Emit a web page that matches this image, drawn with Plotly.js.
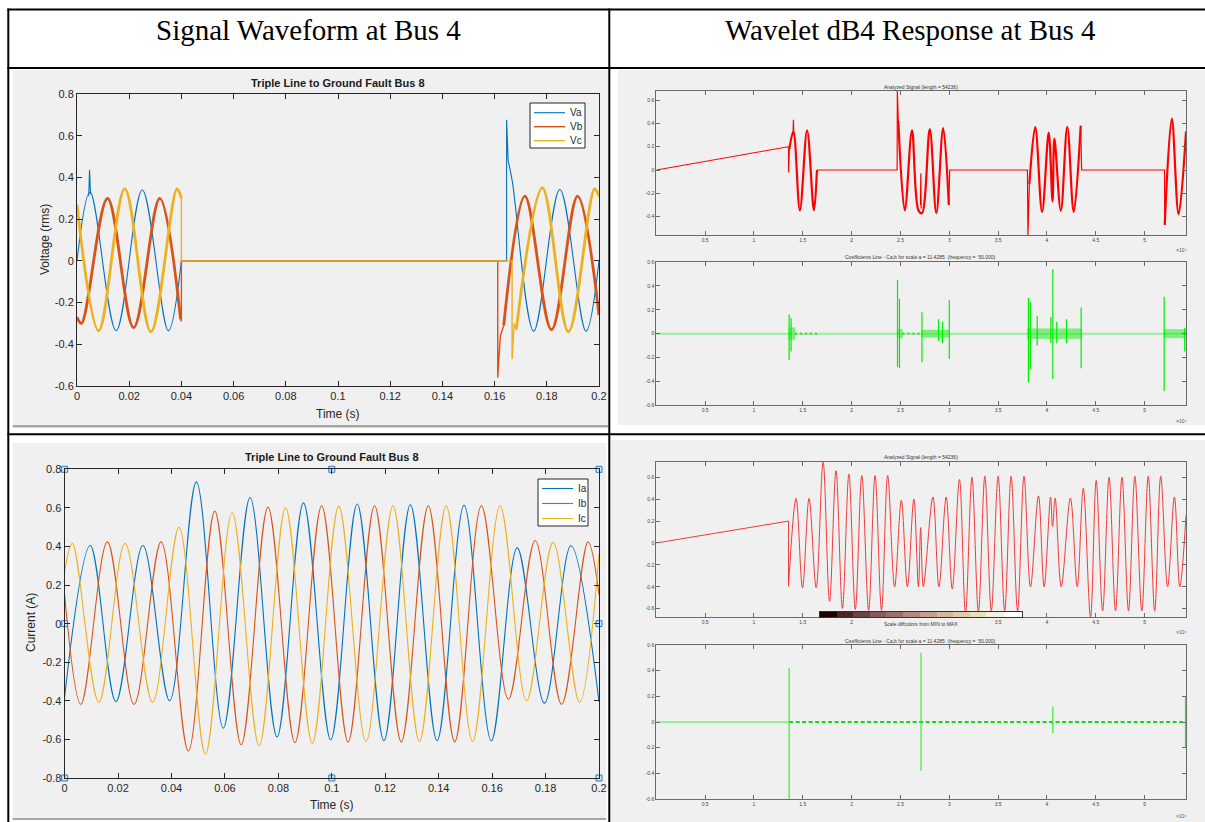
<!DOCTYPE html>
<html><head><meta charset="utf-8">
<script src="https://cdn.plot.ly/plotly-3.0.1.min.js"></script>
<style>html,body{margin:0;padding:0;background:#fff;overflow:hidden}#chart{width:1205px;height:822px}</style>
</head><body><div id="chart"></div><script>
// ---------------- DATA ----------------
// Top-left: voltages, time in s. Smooth wave parts (spline) and straight pieces (steps/flat/spikes)
const vaT = [0, 0.005, 0.015, 0.025, 0.035, 0.04, null, 0.1652, 0.1668, 0.175, 0.185, 0.195, 0.2];
const vaV = [0, 0.33, -0.335, 0.34, -0.335, 0, null, 0.48, 0.38, -0.337, 0.342, -0.337, 0];
const vaStepT = [0.04, 0.1646, 0.1646, 0.1652, null, 0.0045, 0.0048, 0.0052];
const vaStepV = [0, 0, 0.677, 0.48, null, 0.31, 0.435, 0.32];
const vbT = [0, 0.0017, 0.0117, 0.0217, 0.0317, 0.0397, null, 0.1635, 0.1716, 0.1818, 0.1918, 0.2];
const vbV = [-0.27, -0.3, 0.3, -0.32, 0.3, -0.28, null, -0.31, 0.31, -0.33, 0.31, -0.26];
const vbStepT = [0.0397, 0.04, 0.04, 0.1612, 0.1612, 0.1622, 0.1635];
const vbStepV = [-0.28, -0.29, 0, 0, -0.56, -0.36, -0.31];
const vcT = [0, 0.0083, 0.0183, 0.0283, 0.0383, 0.04, null, 0.1683, 0.1783, 0.1883, 0.1983, 0.2];
const vcV = [0.27, -0.335, 0.345, -0.34, 0.345, 0.3, null, -0.33, 0.35, -0.34, 0.345, 0.31];
const vcStepT = [0.04, 0.04, 0.1667, 0.1667, 0.1675, 0.1683];
const vcStepV = [0.3, 0, 0, -0.47, -0.3, -0.33];
const voltNames = ['Va', 'Vb', 'Vc'];

// Bottom-left: currents (extrema), time in s
const iaT = [0, 0.0096, 0.0192, 0.0293, 0.0393, 0.0493, 0.0594, 0.0694, 0.0795, 0.0894, 0.0996, 0.1095, 0.1195, 0.1294, 0.1394, 0.1495, 0.1597, 0.1694, 0.1796, 0.1895, 0.2];
const iaV = [-0.38, 0.405, -0.404, 0.405, -0.40, 0.735, -0.542, 0.654, -0.587, 0.626, -0.602, 0.62, -0.607, 0.616, -0.607, 0.613, -0.607, 0.393, -0.412, 0.404, -0.404];
const ibT = [0, 0.0061, 0.016, 0.026, 0.0361, 0.0463, 0.0562, 0.0661, 0.0761, 0.0862, 0.0962, 0.1061, 0.116, 0.126, 0.1361, 0.146, 0.156, 0.1661, 0.1761, 0.186, 0.1959, 0.2];
const ibV = [0.15, -0.418, 0.424, -0.418, 0.424, -0.66, 0.583, -0.628, 0.604, -0.616, 0.611, -0.613, 0.611, -0.613, 0.611, -0.613, 0.611, -0.392, 0.431, -0.418, 0.424, 0.15];
const icT = [0, 0.0029, 0.0128, 0.0226, 0.0329, 0.0428, 0.0527, 0.0627, 0.0728, 0.0827, 0.0927, 0.1026, 0.1128, 0.1229, 0.1328, 0.1428, 0.1527, 0.163, 0.1729, 0.1828, 0.1927, 0.2];
const icV = [0.27, 0.416, -0.407, 0.416, -0.407, 0.499, -0.676, 0.575, -0.633, 0.6, -0.62, 0.609, -0.611, 0.611, -0.611, 0.611, -0.611, 0.611, -0.40, 0.421, -0.407, 0.36];
const currNames = ['Ia', 'Ib', 'Ic'];
const handleT = [0, 0.1, 0.2, 0, 0.2, 0, 0.1, 0.2];
const handleV = [0.8, 0.8, 0.8, 0, 0, -0.8, -0.8, -0.8];

// Right column, x in samples x10^4
const rampX = [0, 1.354];
const rampY = [0, 0.2];
// Top-right analysed signal
const sigTopWaveX = [1.362, 1.404, 1.47, 1.544, 1.614, 1.645, null, 2.478, 2.544, 2.618, 2.684, 2.72, 2.80, 2.867, 2.937, 2.995, null, 3.82, 3.88, 3.95, 4.018, 4.057, 4.076, 4.142, 4.208, 4.274, 4.345, null, 5.206, 5.278, 5.348, 5.4236];
const sigTopWaveY = [0.18, 0.33, -0.346, 0.34, -0.346, 0, null, 0.42, -0.346, 0.34, -0.346, -0.37, 0.35, -0.37, 0.36, -0.3, null, -0.12, 0.37, -0.36, 0.32, -0.27, 0.27, -0.35, 0.37, -0.36, 0.38, null, -0.47, 0.44, -0.38, 0.33];
const sigTopStepX = [1.354, 1.354, 1.362, null, 1.645, 2.466, 2.468, 2.478, null, 2.705, 2.708, 2.712, null, 2.995, 3.004, 3.80, 3.805, 3.82, null, 4.345, 4.355, 5.204, 5.206, null, 1.400, 1.404, 1.408];
const sigTopStepY = [0.2, -0.02, 0.18, null, 0, 0, 0.68, 0.42, null, -0.3, -0.03, -0.33, null, -0.3, 0, 0, -0.56, -0.12, null, 0.38, 0, 0, -0.47, null, 0.3, 0.43, 0.3];
// Top-right coefficients
const topBaseX = [0, 5.4236];
const topDotsX = [1.42, 1.65, null, 2.52, 2.71];
const topSpikeX = [1.36, 1.38, 2.47, 2.49, 2.72, 2.89, 2.93, 3.0, 3.81, 3.83, 3.9, 4.04, 4.06, 4.1, 4.2, 4.35, 5.2, 5.41, 5.43];
const topSpikeHi = [0.16, 0.13, 0.45, 0.29, 0.18, 0.12, 0.1, 0.28, 0.3, 0.27, 0.15, 0.14, 0.54, 0.1, 0.12, 0.22, 0.31, 0.05, 0.2];
const topSpikeLo = [-0.22, -0.15, -0.28, -0.29, -0.24, -0.06, -0.08, -0.21, -0.41, -0.3, -0.1, -0.08, -0.38, -0.08, -0.08, -0.29, -0.48, -0.15, -0.2];
const topBurstStart = [1.355, 2.465, 2.715, 3.80, 5.2];
const topBurstEnd = [1.42, 2.52, 3.0, 4.355, 5.4236];
const topBurstAmp = [0.05, 0.035, 0.03, 0.04, 0.035];
// Bottom-right analysed signal
const sigBotStepX = [1.354, 1.354];
const sigBotStepY = [0.2, -0.395];
const sigBotWaveX = [1.354, 1.431, 1.497, 1.564, 1.637, 1.708, 1.774, 1.84, 1.906, 1.972, 2.038, 2.104, 2.174, 2.24, 2.306, 2.369, 2.44, 2.509, 2.571, 2.637, 2.684, 2.707, 2.734, 2.832, 2.894, 2.968, 3.03, 3.104, 3.166, 3.232, 3.298, 3.364, 3.43, 3.5, 3.567, 3.633, 3.699, 3.765, 3.831, 3.913, 3.971, 4.037, 4.057, 4.084, 4.146, 4.24, 4.31, 4.372, 4.446, 4.504, 4.57, 4.636, 4.702, 4.768, 4.835, 4.9, 4.971, 5.037, 5.103, 5.165, 5.235, 5.305, 5.36, 5.4236];
const sigBotWaveY = [-0.395, 0.407, -0.41, 0.407, -0.41, 0.74, -0.533, 0.66, -0.597, 0.63, -0.606, 0.615, -0.615, 0.615, -0.615, 0.615, -0.4, 0.39, -0.4, 0.4, -0.4, 0.14, -0.4, 0.42, -0.4, 0.42, -0.42, 0.58, -0.64, 0.6, -0.63, 0.61, -0.62, 0.61, -0.62, 0.61, -0.62, 0.61, -0.4, 0.43, -0.4, 0.42, 0.15, 0.41, -0.4, 0.41, -0.4, 0.5, -0.68, 0.57, -0.62, 0.6, -0.62, 0.6, -0.62, 0.61, -0.62, 0.61, -0.62, 0.61, -0.4, 0.42, -0.4, 0.25];
const colorLevels = [0, 1, 2, 3, 4, 5, 6, 7, 8, 9, 10, 11];
const colorBarX = [1.76, 1.93, 2.10, 2.27, 2.44, 2.61, 2.79, 2.96, 3.13, 3.30, 3.47, 3.66];
// Bottom-right coefficients
const botBaseSolidX = [0, 1.36];
const botBaseDashX = [1.36, 5.4236];
const botSpikeX = [1.36, 2.711, 4.06, 5.418];
const botSpikeHi = [0.42, 0.54, 0.12, 0.2];
const botSpikeLo = [-0.6, -0.38, -0.088, -0.2];

// Tick labels
const leftXTicks = [0, 0.02, 0.04, 0.06, 0.08, 0.1, 0.12, 0.14, 0.16, 0.18, 0.2];
const leftXText = ['0', '0.02', '0.04', '0.06', '0.08', '0.1', '0.12', '0.14', '0.16', '0.18', '0.2'];
const voltYTicks = [-0.6, -0.4, -0.2, 0, 0.2, 0.4, 0.6, 0.8];
const voltYText = ['-0.6', '-0.4', '-0.2', '0', '0.2', '0.4', '0.6', '0.8'];
const currYTicks = [-0.8, -0.6, -0.4, -0.2, 0, 0.2, 0.4, 0.6, 0.8];
const currYText = ['-0.8', '-0.6', '-0.4', '-0.2', '0', '0.2', '0.4', '0.6', '0.8'];
const rightXTicks = [0.5, 1, 1.5, 2, 2.5, 3, 3.5, 4, 4.5, 5];
const rightXText = ['0.5', '1', '1.5', '2', '2.5', '3', '3.5', '4', '4.5', '5'];
const rightXTextUnderBar = ['0.5', '1', '1.5', '2', '', '', '3.5', '4', '4.5', '5'];
const sigTopYTicks = [-0.4, -0.2, 0, 0.2, 0.4, 0.6];
const sigTopYText = ['-0.4', '-0.2', '0', '0.2', '0.4', '0.6'];
const sixYTicks = [-0.6, -0.4, -0.2, 0, 0.2, 0.4, 0.6];
const sixYText = ['-0.6', '-0.4', '-0.2', '0', '0.2', '0.4', '0.6'];

// ---------------- LAYOUT HELPERS ----------------
const W = 1205, H = 822;
const px = x => x / W, py = y => 1 - y / H;
const C_A = '#0072BD', C_B = '#D95319', C_C = '#EDB120';
const PHASE_COLORS = [C_A, C_B, C_C];
const RED = '#ff0000', GREEN = '#00ee00';

function leftAx(extra) {
  return Object.assign({showline: true, linecolor: '#262626', linewidth: 1, mirror: 'ticks', ticks: 'inside', ticklen: 5,
    tickcolor: '#262626', showgrid: false, zeroline: false, tickfont: {size: 11, color: '#262626'}, fixedrange: true}, extra);
}
function rightAx(extra) {
  return Object.assign({showline: true, linecolor: '#6a6a6a', linewidth: 1, mirror: 'ticks', ticks: 'inside', ticklen: 4,
    tickcolor: '#6a6a6a', showgrid: false, zeroline: false, tickfont: {size: 5, color: '#444'}, fixedrange: true}, extra);
}
function line(x, y, xa, ya, color, width, shape, extra) {
  return Object.assign({type: 'scatter', mode: 'lines', x: x, y: y, xaxis: xa, yaxis: ya,
    line: {color: color, width: width, shape: shape || 'linear', smoothing: 1}, showlegend: false, hoverinfo: 'skip'}, extra || {});
}
function spikes(xs, hi, lo, xa, ya, color) {
  const x = [], y = [];
  xs.forEach((v, i) => { x.push(v, v, null); y.push(lo[i], hi[i], null); });
  return line(x, y, xa, ya, color, 1.2);
}
function bursts(s, e, a, xa, ya) {
  const x = [], y = [];
  s.forEach((v, i) => { x.push(v, e[i], e[i], v, v, null); y.push(-a[i], -a[i], a[i], a[i], -a[i], null); });
  return line(x, y, xa, ya, 'rgba(40,235,40,0.6)', 0.5, 'linear', {fill: 'toself', fillcolor: 'rgba(40,235,40,0.55)'});
}
const zeros = arr => arr.map(v => v === null ? null : 0);

const traces = [
  // top-left voltages
  line(vaT, vaV, 'x', 'y', C_A, 1.1, 'spline', {name: voltNames[0]}),
  line(vaStepT, vaStepV, 'x', 'y', C_A, 1.1),
  line(vbT, vbV, 'x', 'y', C_B, 2.8, 'spline', {name: voltNames[1]}),
  line(vbStepT, vbStepV, 'x', 'y', C_B, 1.4),
  line(vcT, vcV, 'x', 'y', C_C, 2.8, 'spline', {name: voltNames[2]}),
  line(vcStepT, vcStepV, 'x', 'y', C_C, 1.4),
  // bottom-left currents
  line(iaT, iaV, 'x2', 'y2', C_A, 1.1, 'spline', {name: currNames[0]}),
  line(ibT, ibV, 'x2', 'y2', C_B, 1.1, 'spline', {name: currNames[1]}),
  line(icT, icV, 'x2', 'y2', C_C, 1.1, 'spline', {name: currNames[2]}),
  {type: 'scatter', mode: 'markers', x: handleT, y: handleV, xaxis: 'x2', yaxis: 'y2', cliponaxis: false, showlegend: false, hoverinfo: 'skip',
    marker: {symbol: 'square', size: 6, color: '#cfe6f8', line: {color: '#2d7cc4', width: 1}}},
  // top-right signal
  line(rampX, rampY, 'x3', 'y3', RED, 1),
  line(sigTopStepX, sigTopStepY, 'x3', 'y3', RED, 1.2),
  line(sigTopWaveX, sigTopWaveY, 'x3', 'y3', RED, 2.2, 'spline'),
  // top-right coefficients
  line(topBaseX, zeros(topBaseX), 'x4', 'y4', 'rgba(60,240,60,0.5)', 2),
  line(topDotsX, zeros(topDotsX), 'x4', 'y4', '#22dd22', 1.6, 'linear', {line: {color: '#22dd22', width: 1.6, dash: '2px,3px'}}),
  bursts(topBurstStart, topBurstEnd, topBurstAmp, 'x4', 'y4'),
  spikes(topSpikeX, topSpikeHi, topSpikeLo, 'x4', 'y4', GREEN),
  // bottom-right signal
  line(rampX, rampY, 'x5', 'y5', '#f03a3a', 1),
  line(sigBotStepX, sigBotStepY, 'x5', 'y5', '#f03a3a', 1),
  line(sigBotWaveX, sigBotWaveY, 'x5', 'y5', '#f03a3a', 1, 'spline'),
  // colour bar
  {type: 'heatmap', x: colorBarX, y: [0], z: [colorLevels], xaxis: 'x7', yaxis: 'y7', showscale: false, hoverinfo: 'skip',
    colorscale: [[0, '#1e0000'], [0.125, '#5a3535'], [0.25, '#7f5656'], [0.375, '#a27272'], [0.5, '#bd9486'], [0.625, '#cfb597'], [0.75, '#dfd2aa'], [0.875, '#eeeccd'], [1, '#ffffff']]},
  // bottom-right coefficients
  line(botBaseSolidX, zeros(botBaseSolidX), 'x6', 'y6', 'rgba(60,240,60,0.5)', 2),
  line(botBaseDashX, zeros(botBaseDashX), 'x6', 'y6', '#14d814', 2, 'linear', {line: {color: '#14d814', width: 2, dash: '4px,2.5px'}}),
  spikes(botSpikeX, botSpikeHi, botSpikeLo, 'x6', 'y6', '#33ee33')
];

const rx = [px(656.3), px(1186)];
const layout = {
  width: W, height: H, margin: {l: 0, r: 0, t: 0, b: 0}, paper_bgcolor: '#ffffff', plot_bgcolor: '#ffffff',
  font: {family: 'Liberation Sans, Arial, sans-serif', color: '#262626'}, showlegend: false,
  xaxis: leftAx({domain: [px(77), px(599)], range: [0, 0.2], tickvals: leftXTicks, ticktext: leftXText, anchor: 'y'}),
  yaxis: leftAx({domain: [py(386), py(94)], range: [-0.6, 0.8], tickvals: voltYTicks, ticktext: voltYText, anchor: 'x'}),
  xaxis2: leftAx({domain: [px(64.6), px(599)], range: [0, 0.2], tickvals: leftXTicks, ticktext: leftXText, anchor: 'y2'}),
  yaxis2: leftAx({domain: [py(778), py(469.3)], range: [-0.8, 0.8], tickvals: currYTicks, ticktext: currYText, anchor: 'x2'}),
  xaxis3: rightAx({domain: rx, range: [0, 5.4236], tickvals: rightXTicks, ticktext: rightXText, anchor: 'y3'}),
  yaxis3: rightAx({domain: [py(235), py(90.7)], range: [-0.557, 0.68], tickvals: sigTopYTicks, ticktext: sigTopYText, anchor: 'x3'}),
  xaxis4: rightAx({domain: rx, range: [0, 5.4236], tickvals: rightXTicks, ticktext: rightXText, anchor: 'y4'}),
  yaxis4: rightAx({domain: [py(405.3), py(262)], range: [-0.6, 0.6], tickvals: sixYTicks, ticktext: sixYText, anchor: 'x4'}),
  xaxis5: rightAx({domain: rx, range: [0, 5.4236], tickvals: rightXTicks, ticktext: rightXTextUnderBar, anchor: 'y5'}),
  yaxis5: rightAx({domain: [py(616.7), py(461.7)], range: [-0.673, 0.742], tickvals: sixYTicks, ticktext: sixYText, anchor: 'x5'}),
  xaxis6: rightAx({domain: rx, range: [0, 5.4236], tickvals: rightXTicks, ticktext: rightXText, anchor: 'y6'}),
  yaxis6: rightAx({domain: [py(799), py(645)], range: [-0.6, 0.6], tickvals: sixYTicks, ticktext: sixYText, anchor: 'x6'}),
  xaxis7: {domain: [px(820), px(1022)], anchor: 'y7', showticklabels: false, ticks: '', showgrid: false, zeroline: false,
    showline: true, mirror: true, linecolor: '#333', linewidth: 1, fixedrange: true},
  yaxis7: {domain: [py(617), py(611.5)], anchor: 'x7', showticklabels: false, ticks: '', showgrid: false, zeroline: false,
    showline: true, mirror: true, linecolor: '#333', linewidth: 1, fixedrange: true},
  shapes: [],
  annotations: []
};

function rect(x0, y0, x1, y1, color, layer, border) {
  layout.shapes.push({type: 'rect', xref: 'paper', yref: 'paper', x0: px(x0), x1: px(x1), y0: py(y1), y1: py(y0),
    fillcolor: color, line: border || {width: 0}, layer: layer || 'below'});
}
function hline(x0, x1, y, color, width) {
  layout.shapes.push({type: 'line', xref: 'paper', yref: 'paper', x0: px(x0), x1: px(x1), y0: py(y), y1: py(y),
    line: {color: color, width: width}, layer: 'above'});
}
function ann(text, x, y, size, opts) {
  layout.annotations.push(Object.assign({text: text, xref: 'paper', yref: 'paper', x: px(x), y: py(y), showarrow: false,
    xanchor: 'center', yanchor: 'middle', font: {size: size, color: '#262626'}}, opts || {}));
}
// gray MATLAB figure panels
rect(12.7, 70, 608, 425, '#f0f0f0');
rect(12.7, 425, 608, 427.5, '#a6a6a6');
rect(12.7, 443, 606, 818, '#f0f0f0');
rect(12.7, 818, 606, 820, '#a6a6a6');
rect(618, 70, 1205, 425, '#f0f0f0');
rect(611, 440, 1205, 822, '#f0f0f0');
// table borders
rect(7.5, 8.5, 1205, 10.5, '#000000', 'above');
rect(7.5, 67, 1205, 69, '#000000', 'above');
rect(7.5, 433.3, 1205, 435.3, '#000000', 'above');
rect(7.3, 8.5, 9.3, 822, '#000000', 'above');
rect(608.3, 8.5, 610.3, 822, '#000000', 'above');

// MATLAB-style legends (compact boxes)
function legendBox(names, widths, box, first, step, lineX0, lineX1, textX) {
  rect(box[0], box[1], box[2], box[3], '#ffffff', 'above', {color: '#262626', width: 1});
  names.forEach((n, i) => {
    const y = first + i * step;
    hline(lineX0, lineX1, y, PHASE_COLORS[i], widths[i]);
    ann(n, textX, y, 10, {xanchor: 'left', font: {size: 10, color: '#262626'}});
  });
}
legendBox(voltNames, [1.1, 1.4, 1.4], [530, 103, 585, 148], 112.7, 14, 534, 565, 567.5);
legendBox(currNames, [1.1, 1.1, 1.1], [538, 479, 588, 526], 488.5, 15, 542, 573, 575.5);

const serif = 'Liberation Serif, Times New Roman, serif';
ann('Signal Waveform at Bus 4', 308, 30, 29, {font: {family: serif, size: 29, color: '#000'}});
ann('Wavelet dB4 Response at Bus 4', 910, 30, 29, {font: {family: serif, size: 29, color: '#000'}});
ann('<b>Triple Line to Ground Fault Bus 8</b>', 338, 83, 11, {font: {size: 11, color: '#1a1a1a'}});
ann('<b>Triple Line to Ground Fault Bus 8</b>', 332, 457, 11, {font: {size: 11, color: '#1a1a1a'}});
ann('Voltage (rms)', 45, 240, 12, {textangle: -90});
ann('Time (s)', 338, 414, 12);
ann('Current (A)', 31, 623, 12, {textangle: -90});
ann('Time (s)', 332, 805, 12);
ann('Analyzed Signal (length = 54236)', 921, 87, 5, {font: {size: 5, color: '#333'}});
ann('Coefficients Line - Ca,b for scale a = 11.4285  (frequency =  50.000)', 921, 257.5, 5, {font: {size: 5, color: '#333'}});
ann('Analyzed Signal (length = 54236)', 921, 457.5, 5, {font: {size: 5, color: '#333'}});
ann('Coefficients Line - Ca,b for scale a = 11.4285  (frequency =  50.000)', 921, 641, 5, {font: {size: 5, color: '#333'}});
ann('Scale diffcolors from MIN to MAX', 921, 623.5, 5, {font: {size: 5, color: '#333'}});
ann('×10⁴', 1181, 250, 5, {font: {size: 5, color: '#555'}});
ann('×10⁴', 1181, 421, 5, {font: {size: 5, color: '#555'}});
ann('×10⁴', 1181, 632, 5, {font: {size: 5, color: '#555'}});
ann('×10⁴', 1181, 816, 5, {font: {size: 5, color: '#555'}});

Plotly.newPlot('chart', traces, layout, {staticPlot: true, displayModeBar: false});
</script></body></html>
